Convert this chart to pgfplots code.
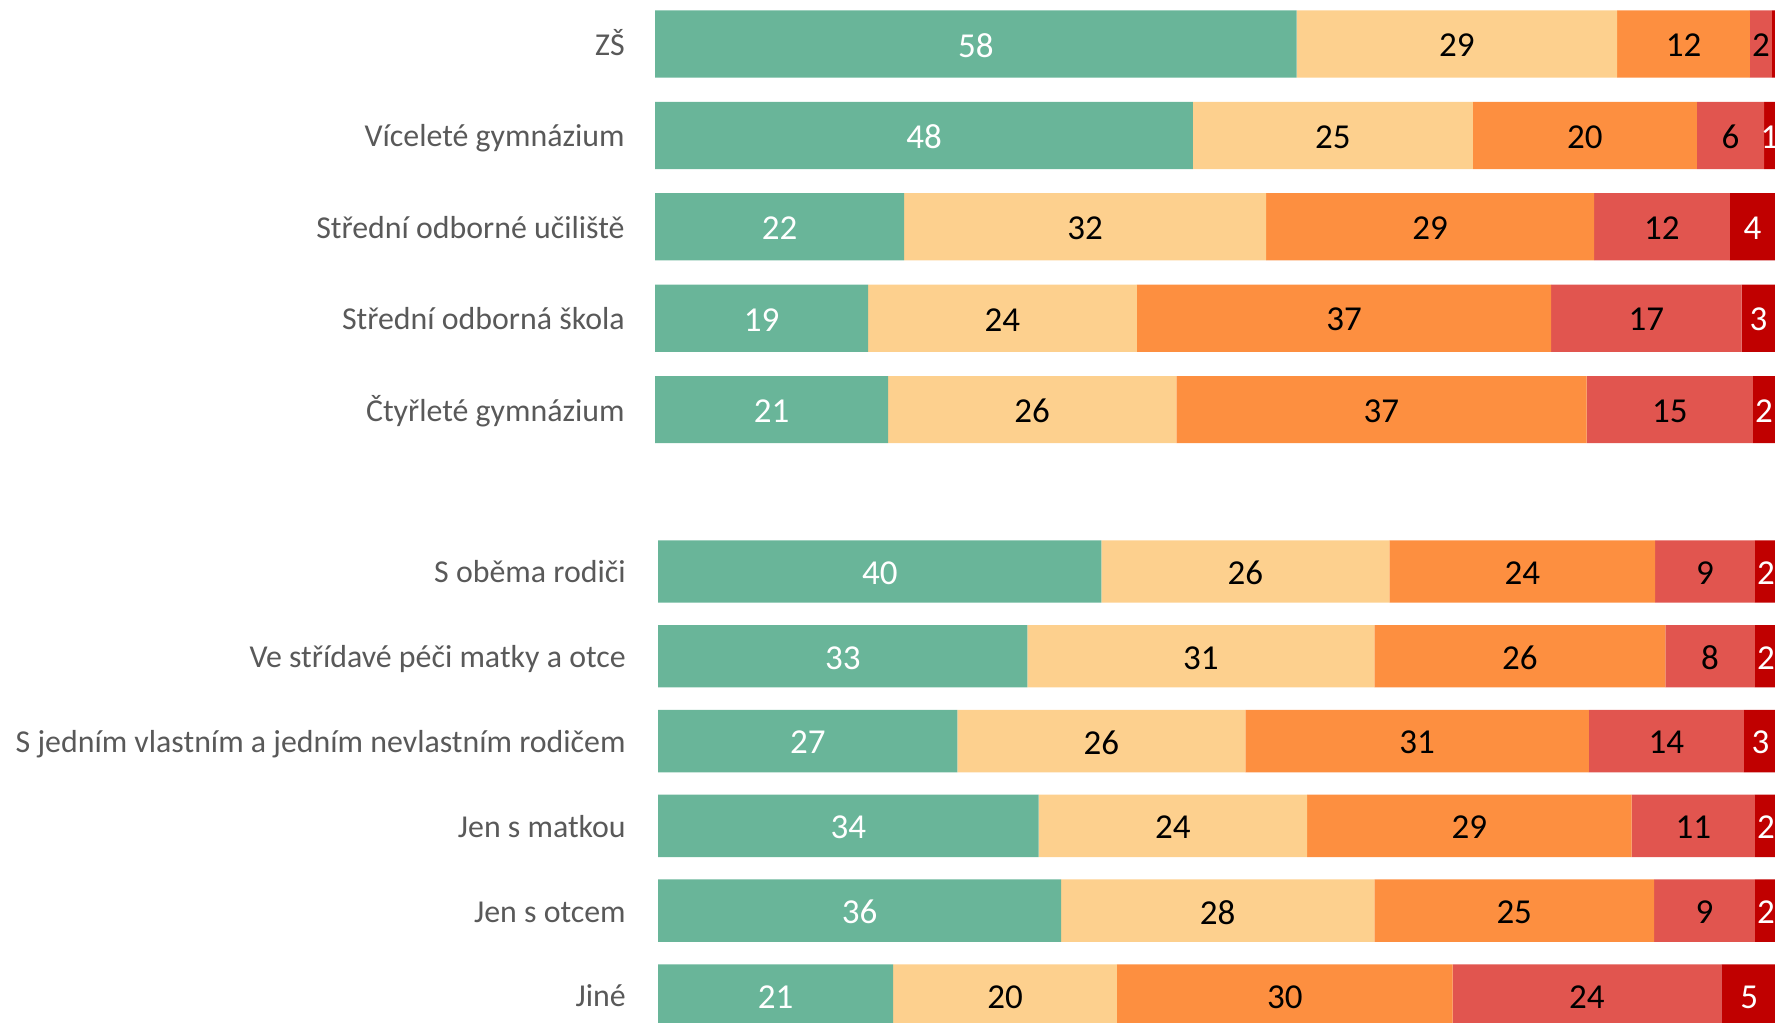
\documentclass[border=0pt]{standalone}
\usepackage{fontspec}
\setmainfont{Carlito}
\usepackage{pgfplots}
\usepackage{pgfplotstable}
\pgfplotsset{compat=1.18}

\definecolor{cgreen}{RGB}{105,181,153}
\definecolor{cpeach}{RGB}{253,208,142}
\definecolor{corange}{RGB}{253,143,64}
\definecolor{cred}{RGB}{225,85,79}
\definecolor{cdark}{RGB}{192,0,0}
\definecolor{labgray}{RGB}{89,89,89}

\newcommand\catfont{\fontsize{12.75}{15}\selectfont}
\newcommand\numfont{\fontsize{14}{16}\selectfont}

% shares drawn as 100 % per row, l* = printed labels
\pgfplotstableread{
y a     la b     lb c     lc d     ld e    le
0 57.26 58 28.63 29 11.85 12 1.97  2  0.30 {}
1 48    48 25    25 20    20 6     6  1    1
2 22.22 22 32.32 32 29.29 29 12.12 12 4.04 4
3 19    19 24    24 37    37 17    17 3    3
4 20.79 21 25.74 26 36.63 37 14.85 15 1.98 2
}\schooltab

\pgfplotstableread{
y a     la b     lb c     lc d     ld e    le
0 39.60 40 25.74 26 23.76 24 8.91  9  1.98 2
1 33    33 31    31 26    26 8     8  2    2
2 26.73 27 25.74 26 30.69 31 13.86 14 2.97 3
3 34    34 24    24 29    29 11    11 2    2
4 36    36 28    28 25    25 9     9  2    2
5 21    21 20    20 30    30 24    24 5    5
}\familytab

\pgfplotsset{
  stackbars/.style={
    xbar stacked, scale only axis, y dir=reverse,
    xmin=0, xmax=100, ymin=-0.4,
    axis line style={draw=none}, tick style={draw=none},
    xtick=\empty,
    yticklabel style={font=\catfont, text=labgray, anchor=base east,
      inner sep=0pt, yshift=-4.6pt},
    point meta=explicit symbolic,
    nodes near coords,
    every node near coord/.append style={anchor=center, font=\numfont,
      yshift=-0.6pt},
  },
}

% #1 table, #2 value column, #3 label column, #4 fill, #5 text colour
\newcommand\seg[5]{%
  \addplot[fill=#4, draw=none,
    every node near coord/.append style={text=#5}]
    table[x=#2, y=y, meta=#3] {#1};
}

\begin{document}
\begin{tikzpicture}
\useasboundingbox (0,0) rectangle (710pt,409.2pt);
\clip (0,0) rectangle (710pt,409.2pt);

\begin{axis}[stackbars,
  at={(262.08pt,406.22pt)}, anchor=north west,
  width=448pt, height=175.49pt, ymax=4.4,
  bar width=26.88pt,
  ytick={0,...,4},
  yticklabels={ZŠ, Víceleté gymnázium, Střední odborné učiliště,
    Střední odborná škola, Čtyřleté gymnázium},
  yticklabel style={xshift=-12pt},
]
\seg{\schooltab}{a}{la}{cgreen}{white}
\seg{\schooltab}{b}{lb}{cpeach}{black}
\seg{\schooltab}{c}{lc}{corange}{black}
\seg{\schooltab}{d}{ld}{cred}{black}
\seg{\schooltab}{e}{le}{cdark}{white}
\end{axis}

\begin{axis}[stackbars,
  at={(263.28pt,194.17pt)}, anchor=north west,
  width=447.6pt, height=196.74pt, ymax=5.4,
  bar width=24.96pt,
  ytick={0,...,5},
  yticklabels={S oběma rodiči, Ve střídavé péči matky a otce,
    S jedním vlastním a jedním nevlastním rodičem, Jen s matkou,
    Jen s otcem, Jiné},
  yticklabel style={xshift=-12.8pt},
]
\seg{\familytab}{a}{la}{cgreen}{white}
\seg{\familytab}{b}{lb}{cpeach}{black}
\seg{\familytab}{c}{lc}{corange}{black}
\seg{\familytab}{d}{ld}{cred}{black}
\seg{\familytab}{e}{le}{cdark}{white}
\end{axis}
\end{tikzpicture}
\end{document}
